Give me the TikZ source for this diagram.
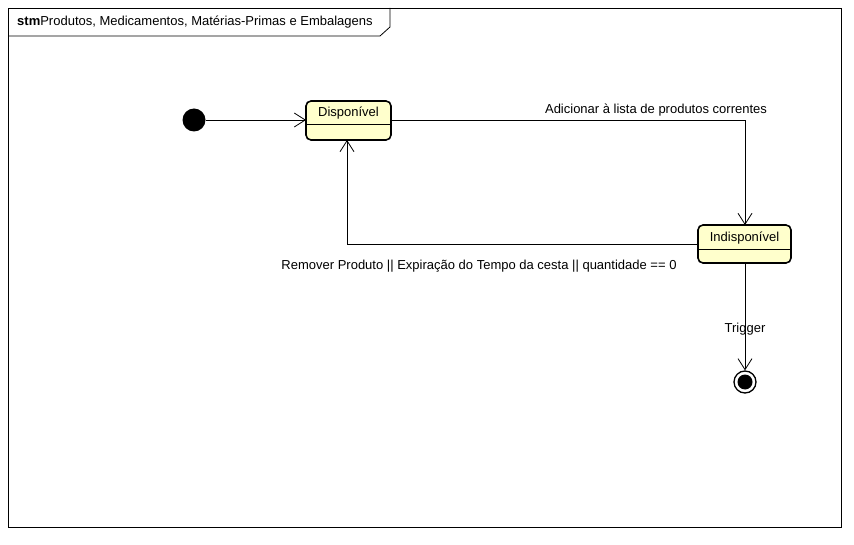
\documentclass[tikz,border=0pt]{standalone}
\usepackage{fontspec}
\setmainfont{Liberation Sans}
\usetikzlibrary{arrows.meta,positioning}
\definecolor{stfill}{RGB}{255,255,204}
\tikzset{
  statebox/.style={draw=black, line width=1.6pt, fill=stfill, rounded corners=5pt},
  conn/.style={draw=black, line width=0.8pt, -{Straight Barb[length=11pt,width=14pt,line width=0.8pt]}},
  lbl/.style={font=\fontsize{13}{15}\selectfont, inner sep=0pt},
}
\begin{document}
\begin{tikzpicture}[x=1pt,y=-1pt]
\useasboundingbox (0,0) rectangle (854,545);
\fill[white] (0,0) rectangle (854,545);
% frame
\draw[line width=0.8pt] (8,8) rectangle (841,527);
\draw[line width=0.8pt] (8,36) -- (380,36) -- (390,27) -- (390,8);
\node[lbl, anchor=west] (title) at (17,22) {\textbf{stm}Produtos, Medicamentos, Matérias-Primas e Embalagens};
% initial
\node[circle, fill=black, minimum size=23pt, inner sep=0pt] (init) at (194,120) {};
% states
\path[statebox] (306,101) rectangle (391,140);
\draw[line width=0.8pt] (306,124) -- (391,124);
\node[lbl] (disp) at (348.5,113) {Disponível};
\coordinate (dispL) at (306,120);
\coordinate (dispR) at (391,120);
\coordinate (dispB) at (347,140);
\path[statebox] (698,225) rectangle (791,263);
\draw[line width=0.8pt] (698,249) -- (791,249);
\node[lbl] (indisp) at (744.5,238) {Indisponível};
\coordinate (indT) at (745,225);
\coordinate (indL) at (698,244);
\coordinate (indB) at (745,263);
% final
\node[circle, draw=black, line width=1.3pt, minimum size=22pt, inner sep=0pt, fill=white] (fin) at (745,382) {};
\node[circle, fill=black, minimum size=15pt, inner sep=0pt] at (fin.center) {};
% connectors
\draw[conn] (init.east) -- (dispL);
\draw[conn] (dispR) -| (indT);
\node[lbl, anchor=base] (l1) at (656,114) {Adicionar à lista de produtos correntes};
\draw[conn] (indL) -| (dispB);
\node[lbl, anchor=base] (l2) at (479,270) {Remover Produto || Expiração do Tempo da cesta || quantidade == 0};
\draw[conn] (indB) -- (fin.north);
\node[lbl, anchor=base] (l3) at (745,333) {Trigger};
\end{tikzpicture}
\end{document}
